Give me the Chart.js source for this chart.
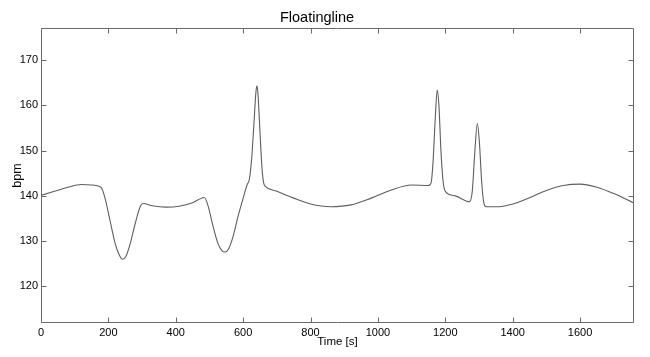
<!DOCTYPE html>
<html>
<head>
<meta charset="utf-8">
<script src="https://cdn.jsdelivr.net/npm/chart.js@4/dist/chart.umd.min.js"></script>
<style>
  html, body { margin: 0; padding: 0; background: #fff; }
  canvas { display: block; }
</style>
</head>
<body>
<canvas id="c" width="650" height="357"></canvas>
<script>
const timeSeconds = [0, 40, 80, 120, 150, 178, 190, 205, 220, 232, 242, 252, 265, 280, 295, 303, 330, 370, 410, 450, 485, 495, 510, 525, 537, 547, 557, 570, 585, 600, 612, 618, 625, 632, 638, 641, 644, 650, 656, 661, 666, 700, 750, 800, 860, 920, 980, 1040, 1100, 1150, 1158, 1164, 1170, 1176, 1181, 1187, 1193, 1200, 1230, 1271, 1280, 1287, 1295, 1301, 1308, 1315, 1322, 1360, 1400, 1450, 1500, 1550, 1600, 1650, 1700, 1760];
const bpmValues = [140.1, 141.0, 141.9, 142.5, 142.4, 141.9, 139.5, 134.5, 129.5, 127.0, 126.0, 126.6, 129.5, 134.0, 137.7, 138.3, 137.8, 137.5, 137.7, 138.5, 139.65, 138.0, 133.5, 129.5, 127.9, 127.6, 128.3, 131.0, 135.5, 139.5, 142.5, 143.5, 148.0, 156.0, 163.0, 164.3, 162.5, 154.0, 146.0, 142.8, 142.1, 141.0, 139.5, 138.2, 137.6, 138.0, 139.5, 141.3, 142.4, 142.3, 143.0, 148.0, 157.0, 163.4, 160.0, 150.0, 143.5, 141.0, 140.0, 138.7, 141.0, 149.0, 156.0, 152.0, 143.0, 138.2, 137.6, 137.6, 138.2, 139.6, 141.2, 142.3, 142.6, 141.9, 140.5, 138.4];
const xTickValues = [0, 200, 400, 600, 800, 1000, 1200, 1400, 1600];
const yTickValues = [120, 130, 140, 150, 160, 170];
const xRange = [0, 1760];
const yRange = [111.9, 177.1];
const chartTitle = 'Floatingline';
const xTitle = 'Time [s]';
const yTitle = 'bpm';

const points = timeSeconds.map((t, i) => ({ x: t, y: bpmValues[i] }));

const frameAndTicks = {
  id: 'frameAndTicks',
  afterDraw(chart) {
    const { ctx, chartArea: a, scales } = chart;
    const L = a.left + 0.5, R = a.right - 0.5, T = a.top + 0.5, B = a.bottom - 0.5;
    const len = 5;
    ctx.save();
    ctx.strokeStyle = '#6a6a6a';
    ctx.lineWidth = 1;
    ctx.beginPath();
    ctx.rect(L, T, R - L, B - T);
    ctx.stroke();
    ctx.beginPath();
    xTickValues.forEach(v => {
      const px = Math.round(scales.x.getPixelForValue(v)) + 0.5;
      ctx.moveTo(px, B); ctx.lineTo(px, B - len);
      ctx.moveTo(px, T); ctx.lineTo(px, T + len);
    });
    yTickValues.forEach(v => {
      const py = Math.round(scales.y.getPixelForValue(v)) + 0.5;
      ctx.moveTo(L, py); ctx.lineTo(L + len, py);
      ctx.moveTo(R, py); ctx.lineTo(R - len, py);
    });
    ctx.stroke();
    ctx.restore();
  }
};

new Chart(document.getElementById('c'), {
  type: 'line',
  data: {
    datasets: [{
      data: points,
      borderColor: '#5e5e5e',
      borderWidth: 1.1,
      pointRadius: 0,
      fill: false,
      cubicInterpolationMode: 'monotone'
    }]
  },
  options: {
    responsive: false,
    animation: false,
    devicePixelRatio: 1,
    layout: { padding: { left: 0, right: 16, top: 0, bottom: 0 } },
    plugins: {
      legend: { display: false },
      tooltip: { enabled: false },
      title: {
        display: true,
        text: chartTitle,
        color: '#000',
        font: { family: '"Liberation Sans", Arial, sans-serif', size: 14.5, weight: 'normal' },
        padding: { top: 9, bottom: 1.6 }
      }
    },
    scales: {
      x: {
        type: 'linear',
        min: xRange[0],
        max: xRange[1],
        afterBuildTicks: s => { s.ticks = xTickValues.map(v => ({ value: v })); },
        afterFit: s => { s.height = 34; },
        grid: { display: false, drawTicks: false },
        border: { display: false },
        ticks: {
          padding: 3,
          color: '#000',
          maxRotation: 0,
          autoSkip: false,
          callback: v => String(v),
          font: { family: '"Liberation Sans", Arial, sans-serif', size: 11 }
        },
        title: {
          display: true,
          text: xTitle,
          color: '#000',
          font: { family: '"Liberation Sans", Arial, sans-serif', size: 11.5 },
          padding: { top: 0, bottom: 8 }
        }
      },
      y: {
        type: 'linear',
        min: yRange[0],
        max: yRange[1],
        afterBuildTicks: s => { s.ticks = yTickValues.map(v => ({ value: v })); },
        afterFit: s => { s.width = 41; },
        grid: { display: false, drawTicks: false },
        border: { display: false },
        ticks: {
          padding: 3,
          color: '#000',
          autoSkip: false,
          callback: v => String(v),
          font: { family: '"Liberation Sans", Arial, sans-serif', size: 11 }
        },
        title: {
          display: true,
          text: yTitle,
          color: '#000',
          font: { family: '"Liberation Sans", Arial, sans-serif', size: 12.5 },
          padding: { top: 10, bottom: 0 }
        }
      }
    }
  },
  plugins: [frameAndTicks]
});
</script>
</body>
</html>
